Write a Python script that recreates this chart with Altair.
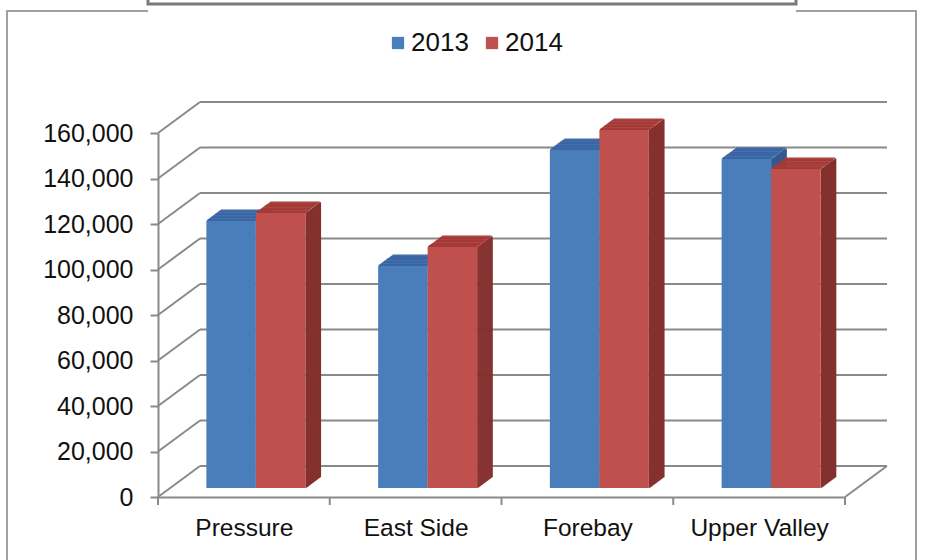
import json
import altair as alt
import pandas as pd

# ---------------- data ----------------
categories = ["Pressure", "East Side", "Forebay", "Upper Valley"]
years = ["2013", "2014"]
values_2013 = [117400, 97600, 148600, 144600]
values_2014 = [120900, 105900, 157400, 140200]
y_ticks = [0, 20000, 40000, 60000, 80000, 100000, 120000, 140000, 160000]

# ---------------- geometry / style constants ----------------
W, H = 687, 364
Y_MAX = 160000
X_MIN, X_MAX = -0.5, len(categories) - 0.5
PX_PER_X = W / (X_MAX - X_MIN)
PX_PER_Y = H / Y_MAX

WALL_DX, WALL_DY = 42, 31      # depth of the floor / back wall (px)
FRONT_DX, FRONT_DY = 12, 9     # how far back the bar front faces sit (px)
BAR_DX, BAR_DY = 15, 11        # depth of each bar (px)
BAR_W = 49.5 / PX_PER_X        # bar width in x units
N_SLICES = BAR_DX
sx = (BAR_DX / N_SLICES) / PX_PER_X   # x step of one depth slice (x units)
sy = (BAR_DY / N_SLICES) / PX_PER_Y   # y step of one depth slice (y units)

FONT = "Liberation Sans"
GRID = "#8a8a8a"
FRONT = {"2013": "#4a7ebb", "2014": "#c0504d"}
TOP = {"2013": "#3a67a6", "2014": "#a53a37"}
SIDE = {"2013": "#2f558e", "2014": "#84302d"}

# ---------------- tables built from the arrays ----------------
series = {"2013": values_2013, "2014": values_2014}
bars, sides, tops = [], [], []
for i, cat in enumerate(categories):
    for j, yr in enumerate(years):
        v = series[yr][i]
        xl = i - BAR_W + j * BAR_W
        xr = xl + BAR_W
        bars.append({"cat": cat, "year": yr, "xl": xl, "xr": xr, "v": v, "zero": 0})
        # depth extrusion of the bar: thin slices stepping back into the chart
        for k in range(N_SLICES):
            sides.append({"year": yr,
                          "x": xr + k * sx, "x2": xr + (k + 1.7) * sx,
                          "y": v + (k + 0.5) * sy, "y2": (k + 0.5) * sy})
            tops.append({"year": yr,
                         "x": xl + (k + 0.5) * sx, "x2": xr + (k + 0.5) * sx,
                         "y": v + k * sy, "y2": v + (k + 1.7) * sy})
bars_df = pd.DataFrame(bars)
sides_df = pd.DataFrame(sides)
tops_df = pd.DataFrame(tops)
grid_df = pd.DataFrame({"v": y_ticks, "x0": X_MIN, "x1": X_MAX})
bounds_df = pd.DataFrame({"b": [X_MIN + k for k in range(len(categories) + 1)], "zero": 0})
corner_df = pd.DataFrame({"x": [X_MAX], "v": [0]})
dummy = pd.DataFrame({"d": [0]})

xs = alt.Scale(domain=[X_MIN, X_MAX], nice=False, zero=False)
ys = alt.Scale(domain=[0, Y_MAX], nice=False)

x_label_expr = json.dumps(categories) + "[round(datum.value)]"

x_axis = alt.Axis(values=list(range(len(categories))), labelExpr=x_label_expr, ticks=False,
                  domain=True, domainColor=GRID, domainWidth=2, grid=False, title=None,
                  labelFont=FONT, labelFontSize=24.5, labelColor="#111", labelPadding=19)
y_axis = alt.Axis(values=y_ticks, labelExpr="format(datum.value, ',')", tickSize=8,
                  tickColor=GRID, tickWidth=2,
                  domain=True, domainColor=GRID, domainWidth=2, grid=False, title=None,
                  labelFont=FONT, labelFontSize=25, labelColor="#111", labelPadding=17)


def X(field):
    return alt.X(field, scale=xs, axis=x_axis)


def Y(field):
    return alt.Y(field, scale=ys, axis=y_axis)


# ---------------- frame decoration ----------------
frame = alt.Chart(dummy).mark_rect(filled=False, stroke="#a0a0a0", strokeWidth=2).encode(
    x=alt.value(7 - 158), x2=alt.value(916 - 158), y=alt.value(11 - 133), y2=alt.value(600 - 133))
cover = alt.Chart(dummy).mark_rect(fill="white").encode(
    x=alt.value(148 - 158), x2=alt.value(796 - 158), y=alt.value(-150), y2=alt.value(13 - 133))
box = alt.Chart(dummy).mark_rect(filled=False, stroke="#7a7a7a", strokeWidth=3).encode(
    x=alt.value(148 - 158), x2=alt.value(796 - 158), y=alt.value(-160), y2=alt.value(4 - 133))

# ---------------- walls / floor ----------------
back_grid = alt.Chart(grid_df).mark_rule(
    color=GRID, strokeWidth=2, xOffset=WALL_DX, x2Offset=WALL_DX, yOffset=-WALL_DY).encode(
    x=X("x0:Q"), x2="x1:Q", y=Y("v:Q"),
)
left_grid = alt.Chart(grid_df).mark_rule(
    color=GRID, strokeWidth=2, x2Offset=WALL_DX, y2Offset=-WALL_DY).encode(
    x=X("x0:Q"), x2="x0:Q", y=Y("v:Q"), y2="v:Q",
)
floor_right = alt.Chart(corner_df).mark_rule(
    color=GRID, strokeWidth=2, x2Offset=WALL_DX, y2Offset=-WALL_DY).encode(
    x=X("x:Q"), x2="x:Q", y=Y("v:Q"), y2="v:Q",
)
cat_ticks = alt.Chart(bounds_df).mark_rule(color=GRID, strokeWidth=2, y2Offset=8).encode(
    x=X("b:Q"), y=Y("zero:Q"), y2="zero:Q",
)


# ---------------- 3D bars ----------------
def face_layer(df, colors, yr):
    return alt.Chart(df).transform_filter(alt.datum.year == yr).mark_rect(
        color=colors[yr],
        xOffset=FRONT_DX, x2Offset=FRONT_DX, yOffset=-FRONT_DY, y2Offset=-FRONT_DY).encode(
        x=X("x:Q"), x2="x2:Q", y=Y("y:Q"), y2="y2:Q",
    )


fronts = alt.Chart(bars_df).mark_rect(
    xOffset=FRONT_DX, x2Offset=FRONT_DX, yOffset=-FRONT_DY, y2Offset=-FRONT_DY).encode(
    x=X("xl:Q"), x2="xr:Q",
    y=Y("v:Q"), y2="zero:Q",
    color=alt.Color("year:N", scale=alt.Scale(domain=years, range=[FRONT[y] for y in years]),
                    legend=alt.Legend(title=None, orient="none", legendX=227, legendY=-103,
                                      direction="horizontal", symbolType="square",
                                      symbolSize=150, symbolStrokeWidth=0,
                                      labelFont=FONT, labelFontSize=26, labelColor="#111",
                                      labelOffset=0, columnPadding=10)),
)

chart = alt.layer(
    frame, cover, box,
    back_grid, left_grid, floor_right, cat_ticks,
    face_layer(sides_df, SIDE, "2013"), face_layer(sides_df, SIDE, "2014"),
    face_layer(tops_df, TOP, "2013"), face_layer(tops_df, TOP, "2014"),
    fronts,
).properties(
    width=W, height=H,
    padding={"left": 158, "top": 133, "right": 926 - 158 - W, "bottom": 560 - 133 - H},
    autosize=alt.AutoSizeParams(type="none"),
    background="white",
).configure_view(stroke=None)

chart.save("out.html", embed_options={"renderer": "svg", "actions": False})
